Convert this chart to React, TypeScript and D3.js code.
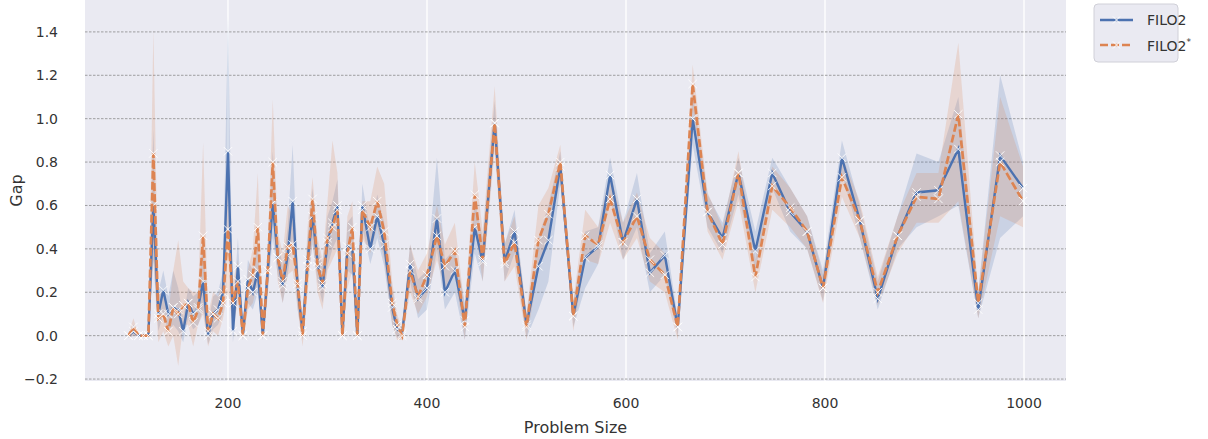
import React from 'react';
import * as d3 from 'd3';

// problem sizes on the x axis
const sizes = [100,105,110,115,120,125,130,135,140,145,150,155,160,165,170,175,180,185,190,195,200,205,210,215,220,225,230,235,240,245,250,255,260,265,270,275,280,285,290,295,300,305,310,315,320,325,330,335,343,350,357,365,370,375,383,391,400,410,418,428,438,448,456,468,478,488,500,512,522,534,547,559,572,584,597,611,624,639,652,667,682,697,713,730,747,765,782,798,817,835,853,873,892,914,934,954,976,999];

// FILO2 mean gap and its confidence band
const filo2 = [0,0.02,0,0,0,0.6,0.1,0.21,0.1,0.13,0.12,0.02,0.15,0.1,0.13,0.25,0,0.1,0.12,0.2,0.85,0.02,0.32,0,0.26,0.2,0.3,0,0.3,0.61,0.36,0.23,0.37,0.62,0.22,0.02,0.35,0.55,0.34,0.22,0.43,0.52,0.6,0,0.41,0.4,0,0.6,0.4,0.55,0.42,0.13,0.03,0.01,0.33,0.17,0.22,0.54,0.2,0.3,0.07,0.5,0.34,0.98,0.34,0.48,0.05,0.32,0.44,0.78,0.09,0.36,0.41,0.74,0.43,0.63,0.29,0.37,0.04,1.0,0.57,0.45,0.75,0.39,0.75,0.57,0.48,0.22,0.82,0.53,0.17,0.46,0.66,0.67,0.86,0.12,0.83,0.68];
const filo2Lo = [-0.01,0,0,0,0,0.35,0.02,0.1,0.02,0.05,0.02,-0.03,0.08,0.03,0.05,0.12,-0.04,0.03,0.05,0.1,0.5,-0.03,0.2,-0.02,0.15,0.12,0.2,-0.02,0.2,0.45,0.28,0.15,0.28,0.45,0.12,-0.02,0.25,0.42,0.25,0.15,0.32,0.4,0.45,-0.02,0.3,0.28,-0.02,0.5,0.33,0.45,0.32,0.05,-0.01,-0.01,0.25,0.08,0.12,0.4,0.12,0.2,-0.02,0.38,0.25,0.9,0.25,0.38,-0.01,0.12,0.25,0.7,0.04,0.22,0.33,0.64,0.35,0.5,0.2,0.28,0,0.88,0.5,0.38,0.65,0.3,0.68,0.48,0.4,0.16,0.75,0.45,0.12,0.4,0.5,0.55,0.6,0.08,0.45,0.55];
const filo2Hi = [0.01,0.05,0,0,0,0.95,0.2,0.3,0.18,0.3,0.22,0.08,0.22,0.18,0.2,0.45,0.05,0.18,0.2,0.3,1.47,0.1,0.45,0.02,0.35,0.3,0.42,0.02,0.42,0.85,0.45,0.32,0.5,0.88,0.32,0.06,0.45,0.68,0.42,0.32,0.55,0.62,0.72,0.03,0.52,0.55,0.03,0.7,0.48,0.65,0.52,0.22,0.08,0.03,0.42,0.26,0.3,0.82,0.35,0.4,0.15,0.62,0.45,1.08,0.42,0.58,0.1,0.45,0.6,0.85,0.15,0.48,0.5,0.82,0.52,0.75,0.38,0.48,0.08,1.12,0.65,0.52,0.82,0.48,0.82,0.68,0.55,0.3,0.9,0.6,0.25,0.55,0.84,0.8,1.1,0.2,1.2,0.8];

// FILO2* mean gap and its confidence band
const filo2s = [0,0.04,0,0,0,0.84,0.08,0.1,0.02,0.13,0.1,0.14,0.15,0.06,0.12,0.46,0.02,0.1,0.08,0.15,0.49,0.15,0.25,0,0.22,0.28,0.5,0,0.3,0.8,0.36,0.25,0.41,0.42,0.24,0,0.32,0.63,0.32,0.24,0.45,0.5,0.58,0,0.38,0.5,0,0.58,0.5,0.62,0.48,0.15,0.05,0,0.3,0.18,0.28,0.46,0.32,0.39,0.04,0.65,0.35,0.98,0.33,0.43,0.04,0.44,0.56,0.8,0.09,0.46,0.42,0.63,0.43,0.55,0.35,0.28,0.04,1.16,0.57,0.42,0.75,0.27,0.69,0.59,0.48,0.22,0.73,0.53,0.2,0.46,0.64,0.63,1.02,0.15,0.8,0.62];
const filo2sLo = [-0.01,0,0,0,0,0.35,-0.03,0.02,-0.05,0,-0.14,0.05,0.05,-0.05,0.05,0.1,-0.05,0.02,0,0.08,0.2,0.05,0.15,-0.02,0.12,0.15,0.25,-0.02,0.18,0.6,0.25,0.15,0.28,0.3,0.12,-0.05,0.2,0.45,0.2,0.12,0.3,0.35,0.4,-0.02,0.22,0.3,-0.02,0.45,0.38,0.5,0.35,0.05,-0.02,-0.02,0.2,0.1,0.18,0.35,0.22,0.28,-0.02,0.5,0.25,0.85,0.25,0.32,-0.02,0.3,0.45,0.72,0.02,0.35,0.33,0.52,0.35,0.45,0.25,0.2,-0.02,1.05,0.48,0.35,0.62,0.2,0.58,0.5,0.4,0.15,0.64,0.45,0.14,0.38,0.52,0.52,0.62,0.08,0.55,0.5];
const filo2sHi = [0.01,0.08,0,0,0,1.41,0.2,0.2,0.1,0.3,0.44,0.25,0.22,0.2,0.2,0.89,0.1,0.2,0.18,0.25,0.78,0.25,0.35,0.02,0.3,0.4,0.75,0.02,0.42,1.09,0.48,0.38,0.6,0.55,0.35,0.05,0.5,0.73,0.45,0.35,0.62,0.9,0.75,0.04,0.55,0.62,0.04,0.62,0.62,0.78,0.7,0.25,0.1,0.03,0.42,0.3,0.38,0.6,0.42,0.52,0.12,0.8,0.48,1.15,0.42,0.55,0.1,0.6,0.68,0.88,0.16,0.58,0.5,0.75,0.52,0.66,0.45,0.38,0.08,1.25,0.66,0.5,0.85,0.35,0.78,0.68,0.55,0.28,0.83,0.62,0.27,0.55,0.75,0.75,1.35,0.2,1.1,0.78];

const xTicks = [200, 400, 600, 800, 1000];
const yTicks = [-0.2, 0, 0.2, 0.4, 0.6, 0.8, 1.0, 1.2, 1.4];

const W = 1208, H = 439;
const left = 85, right = 1066, top = 0, bottom = 381;
const BLUE = '#4C72B0', ORANGE = '#DD8452';
const FONT = 'DejaVu Sans, sans-serif';

type Pt = { x: number; m: number; lo: number; hi: number };

export default function App() {
  const x = d3.scaleLinear().domain([56.3, 1042.2]).range([left, right]);
  const y = d3.scaleLinear().domain([-0.209, 1.547]).range([bottom, top]);

  const mk = (m: number[], lo: number[], hi: number[]): Pt[] =>
    sizes.map((s, i) => ({ x: s, m: m[i], lo: lo[i], hi: hi[i] }));
  const series = [
    { name: 'FILO2', color: BLUE, width: 2.4, dash: undefined as string | undefined, pts: mk(filo2, filo2Lo, filo2Hi) },
    { name: 'FILO2*', color: ORANGE, width: 2.7, dash: '8,3', pts: mk(filo2s, filo2sLo, filo2sHi) },
  ];

  const line = d3.line<Pt>().x(d => x(d.x)).y(d => y(d.m));
  const area = d3.area<Pt>().x(d => x(d.x)).y0(d => y(d.lo)).y1(d => y(d.hi));
  const cross = (cx: number, cy: number, r = 4.2) =>
    `M${cx - r},${cy - r}L${cx + r},${cy + r}M${cx - r},${cy + r}L${cx + r},${cy - r}`;

  return (
    <svg width={W} height={H} style={{ position: 'absolute', left: 0, top: 0, background: '#fff' }} fontFamily={FONT}>
      <rect x={left} y={top} width={right - left} height={bottom - top} fill="#EAEAF2" />
      {xTicks.map(t => (
        <line key={t} x1={x(t)} x2={x(t)} y1={top} y2={bottom} stroke="#fff" strokeWidth={1.3} />
      ))}
      {yTicks.map(t => (
        <line key={t} x1={left} x2={right} y1={y(t)} y2={y(t)} stroke="#8c8c8c" strokeWidth={0.8} strokeDasharray="2.5,1.5" />
      ))}

      {series.map(s => (
        <path key={s.name + 'band'} d={area(s.pts) || ''} fill={s.color} fillOpacity={0.2} />
      ))}
      {series.map(s => (
        <g key={s.name}>
          <path d={line(s.pts) || ''} fill="none" stroke={s.color} strokeWidth={s.width} strokeDasharray={s.dash} />
          {s.pts.map((p, i) => (
            <path key={i} d={cross(x(p.x), y(p.m))} stroke="#fff" strokeOpacity={0.9} strokeWidth={1} fill="none" />
          ))}
        </g>
      ))}

      {xTicks.map(t => (
        <text key={t} x={x(t)} y={bottom + 27} textAnchor="middle" fontSize={14} fill="#333">{t}</text>
      ))}
      {yTicks.map(t => (
        <text key={t} x={left - 27} y={y(t) + 5} textAnchor="end" fontSize={14} fill="#333">
          {d3.format('.1f')(t).replace('-', '\u2212')}
        </text>
      ))}
      <text x={(left + right) / 2} y={433} textAnchor="middle" fontSize={16} fill="#333">Problem Size</text>
      <text transform={`translate(22,${(top + bottom) / 2}) rotate(-90)`} textAnchor="middle" fontSize={16} fill="#333">Gap</text>

      <g transform="translate(1094,4)">
        <rect x={0} y={0} width={84} height={58} rx={4} fill="#EAEAF2" stroke="#d0d0d8" strokeWidth={1} />
        <line x1={6} x2={39} y1={16} y2={16} stroke={BLUE} strokeWidth={2.4} />
        <path d={cross(22.5, 16, 3.5)} stroke="#fff" strokeWidth={1} />
        <text x={53} y={21} fontSize={14} fill="#333">FILO2</text>
        <line x1={6} x2={39} y1={41} y2={41} stroke={ORANGE} strokeWidth={2.7} strokeDasharray="8,3" />
        <path d={cross(22.5, 41, 3.5)} stroke="#fff" strokeWidth={1} />
        <text x={53} y={47} fontSize={14} fill="#333">FILO2<tspan dy={-6} fontSize={9}>*</tspan></text>
      </g>
    </svg>
  );
}
